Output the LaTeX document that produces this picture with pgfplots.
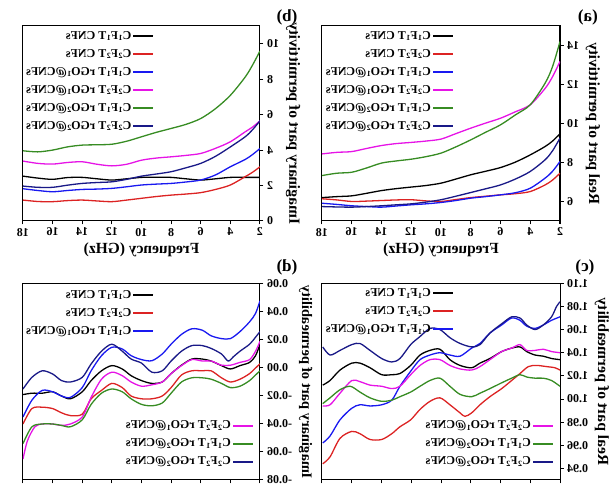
\documentclass[border=0pt]{standalone}
\usepackage{pgfplots}
\pgfplotsset{compat=1.18}
\usepackage{fontspec}
\setmainfont{Liberation Serif}
\usepackage{graphicx}
\definecolor{cBlack}{RGB}{0,0,0}
\definecolor{cRed}{RGB}{220,35,35}
\definecolor{cBlue}{RGB}{25,25,240}
\definecolor{cMag}{RGB}{230,20,230}
\definecolor{cGreen}{RGB}{55,140,35}
\definecolor{cNavy}{RGB}{25,25,135}
\newcommand{\sA}{C\textsubscript{1}F\textsubscript{1}T CNFs}
\newcommand{\sB}{C\textsubscript{2}F\textsubscript{2}T CNFs}
\newcommand{\sC}{C\textsubscript{1}F\textsubscript{1}T rGO\textsubscript{1}@CNFs}
\newcommand{\sD}{C\textsubscript{2}F\textsubscript{2}T rGO\textsubscript{1}@CNFs}
\newcommand{\sE}{C\textsubscript{1}F\textsubscript{1}T rGO\textsubscript{2}@CNFs}
\newcommand{\sF}{C\textsubscript{2}F\textsubscript{2}T rGO\textsubscript{2}@CNFs}
\pgfplotsset{
 legstyle/.style={
  legend style={draw=none, fill=none, inner sep=1pt,
    font=\bfseries\fontsize{12}{13}\selectfont, row sep=4pt,
    nodes={inner sep=1pt, text height=9pt, text depth=3pt},
    cells={anchor=west}},
  legend image code/.code={\draw[##1, line width=2pt] (0pt,0pt) -- (20pt,0pt);},
 },
 panel/.style={
  scale only axis, anchor=south west, legstyle,
  xmin=2, xmax=18, xtick={2,4,...,18},
  tick pos=left, tick align=outside, major tick length=3.5pt,
  axis line style={line width=1pt},
  every tick/.style={line width=1pt, black},
  tick label style={font=\bfseries\fontsize{12}{12}\selectfont},
  label style={font=\bfseries\fontsize{15.5}{16}\selectfont},
  /pgf/number format/assume math mode=true,
  scaled y ticks=false,
  every axis plot/.append style={line width=1.3pt},
 },
 ghost/.style={
  scale only axis, anchor=south west, hide axis, xmin=2, xmax=18, legstyle,
 },
}
\begin{document}
\reflectbox{%
\begin{tikzpicture}
\useasboundingbox (0pt,0pt) rectangle (613pt,486pt);
\clip (0pt,0pt) rectangle (613pt,486pt);
% ---------------- (a)
\begin{axis}[panel, at={(53pt,265pt)}, width=238pt, height=195pt,
 ymin=5, ymax=15, ytick={6,8,...,14},
 xlabel={Frequency (GHz)}, ylabel={Real part of permittivity},
 legend style={at={(0.441,0.99)}, anchor=north west}]
\addplot[cBlack, smooth] coordinates {(18,6.2)(17,6.25)(16,6.29)(15,6.42)(14,6.56)(13,6.66)(12,6.74)(11,6.82)(10,6.94)(9,7.15)(8,7.37)(7,7.55)(6,7.74)(5,8.02)(4,8.39)(3,8.82)(2.5,9.1)(2,9.47)};
\addplot[cRed, smooth] coordinates {(18,6.14)(17,6.08)(16,6.0)(15,6.02)(14,6.05)(13,6.08)(12,6.09)(11,6.03)(10,6.0)(9,6.1)(8,6.2)(7,6.27)(6,6.34)(5,6.4)(4,6.51)(3,6.85)(2.5,7.1)(2,7.45)};
\addplot[cBlue, smooth] coordinates {(18,5.91)(17,5.85)(16,5.78)(15,5.74)(14,5.71)(13,5.77)(12,5.83)(11,5.88)(10,5.95)(9,6.05)(8,6.17)(7,6.25)(6,6.34)(5,6.45)(4,6.68)(3,7.2)(2.5,7.55)(2,8.05)};
\addplot[cMag, smooth] coordinates {(18,8.44)(17,8.52)(16,8.56)(15,8.72)(14,8.87)(13,8.97)(12,9.03)(11,9.1)(10,9.2)(9,9.48)(8,9.76)(7,10.02)(6,10.27)(5,10.6)(4,10.96)(3,11.8)(2.5,12.4)(2,13.18)};
\addplot[cGreen, smooth] coordinates {(18,7.33)(17,7.45)(16,7.5)(15,7.72)(14,7.97)(13,8.08)(12,8.17)(11,8.3)(10,8.48)(9,8.8)(8,9.16)(7,9.55)(6,9.93)(5,10.44)(4,10.96)(3,12.07)(2.5,12.92)(2,14.2)};
\addplot[cNavy, smooth] coordinates {(18,5.74)(17,5.72)(16,5.71)(15,5.74)(14,5.78)(13,5.83)(12,5.88)(11,5.97)(10,6.09)(9,6.27)(8,6.46)(7,6.65)(6,6.85)(5,7.15)(4,7.54)(3,8.14)(2.5,8.6)(2,9.25)};
\legend{\sA,\sB,\sC,\sD,\sE,\sF}
\end{axis}
% ---------------- (b)
\begin{axis}[panel, at={(353pt,265pt)}, width=237pt, height=195pt,
 ymin=0, ymax=11, ytick={0,2,...,10},
 xlabel={Frequency (GHz)}, ylabel={Imaginary part of permittivity},
 legend style={at={(0.441,0.99)}, anchor=north west}]
\addplot[cBlack, smooth] coordinates {(18,2.53)(17,2.42)(16,2.35)(15,2.45)(14,2.46)(13,2.38)(12,2.31)(11,2.38)(10,2.46)(9,2.47)(8,2.46)(7,2.38)(6,2.31)(5,2.38)(4,2.46)(3,2.46)(2,2.46)};
\addplot[cRed, smooth] coordinates {(18,1.18)(17,1.1)(16,1.09)(15,1.15)(14,1.18)(13,1.13)(12,1.09)(11,1.18)(10,1.28)(9,1.38)(8,1.46)(7,1.52)(6,1.6)(5,1.78)(4,2.03)(3,2.5)(2.5,2.75)(2,3.06)};
\addplot[cBlue, smooth] coordinates {(18,1.82)(17,1.72)(16,1.65)(15,1.72)(14,1.78)(13,1.8)(12,1.84)(11,1.93)(10,2.03)(9,2.08)(8,2.12)(7,2.2)(6,2.31)(5,2.6)(4,3.06)(3,3.47)(2.5,3.75)(2,4.09)};
\addplot[cMag, smooth] coordinates {(18,3.38)(17,3.25)(16,3.21)(15,3.3)(14,3.34)(13,3.2)(12,3.11)(11,3.2)(10,3.43)(9,3.55)(8,3.62)(7,3.7)(6,3.81)(5,4.1)(4,4.47)(3,5.03)(2.5,5.3)(2,5.65)};
\addplot[cGreen, smooth] coordinates {(18,3.96)(17,3.9)(16,4.0)(15,4.18)(14,4.28)(13,4.3)(12,4.33)(11,4.5)(10,4.75)(9,5.0)(8,5.22)(7,5.45)(6,5.78)(5,6.34)(4,7.09)(3,8.12)(2.5,8.8)(2,9.59)};
\addplot[cNavy, smooth] coordinates {(18,1.97)(17,1.9)(16,1.9)(15,2.02)(14,2.12)(13,2.17)(12,2.21)(11,2.35)(10,2.53)(9,2.65)(8,2.78)(7,3.0)(6,3.25)(5,3.65)(4,4.18)(3,4.75)(2.5,5.15)(2,5.65)};
\legend{\sA,\sB,\sC,\sD,\sE,\sF}
\end{axis}
% ---------------- (c)
\begin{axis}[panel, at={(53pt,6pt)}, width=238pt, height=196.7pt,
 ymin=0.93, ymax=1.10, ytick={0.94,0.96,0.98,1.00,1.02,1.04,1.06,1.08,1.10},
 yticklabels={0.94,0.96,0.98,1.00,1.02,1.04,1.06,1.08,1.10},
 xticklabels={}, ylabel={Real part of permeability},
 legend style={at={(0.441,0.99)}, anchor=north west}]
\addplot[cBlack, smooth] coordinates {(17.95,1.012)(17.46,1.016)(16.79,1.025)(16.0,1.031)(15.45,1.031)(14.77,1.027)(13.99,1.021)(13.31,1.021)(12.76,1.022)(12.04,1.029)(11.41,1.038)(10.74,1.042)(10.07,1.043)(9.4,1.034)(8.72,1.029)(7.94,1.027)(7.38,1.031)(6.71,1.035)(5.92,1.041)(5.25,1.044)(4.69,1.045)(4.24,1.041)(3.68,1.038)(3.12,1.037)(2.57,1.035)(2.0,1.034)};
\addplot[cRed, smooth] coordinates {(17.95,0.944)(17.46,0.950)(16.79,0.966)(16.0,0.972)(15.45,0.970)(14.77,0.965)(13.99,0.965)(13.31,0.970)(12.76,0.976)(12.04,0.982)(11.41,0.991)(10.74,0.998)(10.07,1.001)(9.4,0.995)(8.72,0.988)(8.39,0.985)(7.94,0.988)(7.38,0.995)(6.71,1.002)(5.92,1.009)(5.25,1.016)(4.69,1.022)(4.13,1.028)(3.57,1.029)(2.9,1.028)(2.34,1.027)(2.0,1.025)};
\addplot[cBlue, smooth] coordinates {(17.95,0.962)(17.46,0.968)(16.79,0.982)(16.0,0.992)(15.45,0.995)(14.77,0.994)(13.99,0.995)(13.31,0.999)(12.76,1.011)(12.04,1.024)(11.41,1.034)(10.74,1.038)(10.07,1.040)(9.4,1.038)(8.72,1.037)(7.94,1.044)(7.38,1.048)(6.71,1.057)(5.92,1.064)(5.25,1.070)(4.69,1.068)(4.24,1.063)(3.68,1.061)(3.12,1.064)(2.57,1.068)(2.0,1.071)};
\addplot[cMag, smooth] coordinates {(17.95,0.994)(17.46,0.995)(16.79,1.005)(16.0,1.016)(15.45,1.015)(14.77,1.012)(13.99,1.011)(13.31,1.009)(12.76,1.011)(12.04,1.021)(11.41,1.029)(10.74,1.034)(10.07,1.034)(9.4,1.029)(8.72,1.026)(7.94,1.025)(7.38,1.028)(6.71,1.034)(5.92,1.041)(5.25,1.044)(4.69,1.047)(4.24,1.042)(3.68,1.042)(3.12,1.043)(2.57,1.041)(2.0,1.040)};
\addplot[cGreen, smooth] coordinates {(17.95,0.996)(17.46,1.001)(16.79,1.008)(16.1,1.011)(15.45,1.006)(14.77,1.001)(13.99,0.998)(13.31,0.999)(12.76,1.002)(12.04,1.006)(11.41,1.011)(10.74,1.016)(10.07,1.018)(9.4,1.011)(8.72,1.004)(7.94,1.002)(7.38,1.005)(6.71,1.009)(5.92,1.014)(5.25,1.018)(4.69,1.021)(4.24,1.019)(3.68,1.018)(3.12,1.018)(2.57,1.016)(2.0,1.011)};
\addplot[cNavy, smooth] coordinates {(17.95,1.045)(17.46,1.038)(16.79,1.042)(16.0,1.047)(15.45,1.048)(14.77,1.042)(13.99,1.035)(13.31,1.032)(12.76,1.035)(12.04,1.047)(11.41,1.054)(10.74,1.061)(10.07,1.060)(9.4,1.053)(8.72,1.048)(7.94,1.045)(7.38,1.047)(6.71,1.057)(5.92,1.065)(5.25,1.071)(4.69,1.070)(4.24,1.064)(3.68,1.060)(3.12,1.064)(2.57,1.071)(2.23,1.080)(2.0,1.084)};
\legend{\sA,\sB,\sC}
\end{axis}
\begin{axis}[ghost, at={(53pt,6pt)}, width=238pt, height=196.7pt, ymin=0.93, ymax=1.10,
 legend style={at={(0.021,0.05)}, anchor=south west}]
\addlegendimage{cMag}\addlegendentry{\sD}
\addlegendimage{cGreen}\addlegendentry{\sE}
\addlegendimage{cNavy}\addlegendentry{\sF}
\end{axis}
% ---------------- (d)
\begin{axis}[panel, at={(353pt,6pt)}, width=237pt, height=196pt,
 ymin=-0.08, ymax=0.06, ytick={-0.08,-0.06,-0.04,-0.02,0,0.02,0.04,0.06},
 yticklabels={-0.08,-0.06,-0.04,-0.02,0.00,0.02,0.04,0.06},
 xticklabels={}, ylabel={Imaginary part of permeability},
 ylabel style={font=\bfseries\fontsize{14.5}{15}\selectfont},
 legend style={at={(0.441,0.985)}, anchor=north west}]
\addplot[cBlack, smooth] coordinates {(18,-0.019)(17.4,-0.018)(16.7,-0.018)(16.0,-0.017)(15.4,-0.020)(14.8,-0.022)(14.0,-0.017)(13.4,-0.009)(12.7,-0.002)(12.0,0.0017)(11.3,-0.0007)(10.7,-0.0055)(10.0,-0.009)(9.3,-0.011)(8.6,-0.010)(8.0,-0.004)(7.3,0.002)(6.6,0.0064)(5.9,0.0064)(5.3,0.005)(4.6,0.0017)(4.0,-0.0007)(3.35,0.0017)(2.7,0.004)(2.3,0.0088)(2.0,0.017)};
\addplot[cRed, smooth] coordinates {(18,-0.040)(17.4,-0.029)(16.7,-0.028)(16.0,-0.029)(15.4,-0.032)(14.8,-0.034)(14.0,-0.033)(13.4,-0.022)(12.7,-0.016)(12.0,-0.011)(11.3,-0.014)(10.7,-0.020)(10.0,-0.022)(9.3,-0.022)(8.6,-0.020)(8.0,-0.014)(7.3,-0.005)(6.6,-0.002)(5.9,-0.002)(5.3,-0.002)(4.6,-0.007)(4.0,-0.010)(3.35,-0.008)(2.7,-0.004)(2.3,0.0)(2.0,0.003)};
\addplot[cBlue, smooth] coordinates {(18,-0.035)(17.4,-0.023)(16.7,-0.016)(16.0,-0.017)(15.4,-0.020)(14.8,-0.021)(14.0,-0.014)(13.4,-0.002)(12.7,0.0088)(12.0,0.0148)(11.3,0.0136)(10.7,0.0088)(10.0,0.006)(9.3,0.0052)(8.6,0.010)(8.0,0.017)(7.3,0.024)(6.6,0.028)(5.9,0.027)(5.3,0.023)(4.6,0.021)(4.0,0.021)(3.35,0.026)(2.7,0.033)(2.3,0.039)(2.0,0.048)};
\addplot[cMag, smooth] coordinates {(18,-0.065)(17.7,-0.052)(17.2,-0.042)(16.7,-0.040)(16.0,-0.040)(15.4,-0.041)(14.8,-0.040)(14.0,-0.035)(13.4,-0.021)(12.7,-0.008)(12.0,-0.003)(11.3,-0.0055)(10.7,-0.010)(10.0,-0.013)(9.3,-0.012)(8.6,-0.010)(8.0,-0.004)(7.3,0.0017)(6.6,0.006)(5.9,0.005)(5.3,0.005)(4.6,0.002)(4.0,0.002)(3.35,0.004)(2.7,0.006)(2.3,0.012)(2.0,0.019)};
\addplot[cGreen, smooth] coordinates {(18,-0.054)(17.4,-0.042)(16.7,-0.040)(16.0,-0.040)(15.4,-0.041)(14.8,-0.042)(14.0,-0.037)(13.4,-0.026)(12.7,-0.018)(12.0,-0.015)(11.3,-0.017)(10.7,-0.022)(10.0,-0.026)(9.3,-0.027)(8.6,-0.025)(8.0,-0.018)(7.3,-0.010)(6.6,-0.007)(5.9,-0.007)(5.3,-0.008)(4.6,-0.011)(4.0,-0.014)(3.35,-0.013)(2.7,-0.009)(2.3,-0.005)(2.0,-0.002)};
\addplot[cNavy, smooth] coordinates {(18,-0.015)(17.4,-0.0067)(16.7,-0.002)(16.0,-0.0043)(15.4,-0.009)(14.8,-0.010)(14.0,-0.0067)(13.4,0.0029)(12.7,0.012)(12.0,0.017)(11.3,0.012)(10.7,0.0064)(10.0,0.0035)(9.3,-0.003)(8.6,-0.002)(8.0,0.005)(7.3,0.012)(6.6,0.016)(5.9,0.016)(5.3,0.014)(4.6,0.010)(4.15,0.005)(3.8,0.008)(3.35,0.012)(2.7,0.017)(2.3,0.022)(2.0,0.026)};
\legend{\sA,\sB,\sC}
\end{axis}
\begin{axis}[ghost, at={(353pt,6pt)}, width=237pt, height=196pt, ymin=-0.08, ymax=0.06,
 legend style={at={(0.021,0.05)}, anchor=south west}]
\addlegendimage{cMag}\addlegendentry{\sD}
\addlegendimage{cGreen}\addlegendentry{\sE}
\addlegendimage{cNavy}\addlegendentry{\sF}
\end{axis}
% panel labels
\node[font=\bfseries\fontsize{17}{17}\selectfont] at (25pt,469pt) {(a)};
\node[font=\bfseries\fontsize{17}{17}\selectfont] at (326pt,469pt) {(b)};
\node[font=\bfseries\fontsize{17}{17}\selectfont] at (28pt,219pt) {(c)};
\node[font=\bfseries\fontsize{17}{17}\selectfont] at (326pt,219pt) {(d)};
\end{tikzpicture}}
\end{document}
